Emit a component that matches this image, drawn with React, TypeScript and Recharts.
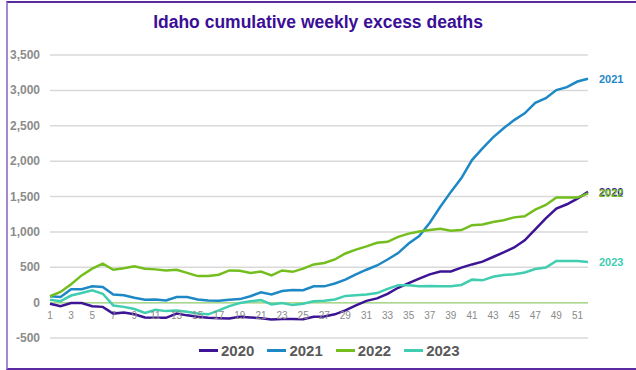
import React from 'react';
import { LineChart, Line, XAxis, YAxis, CartesianGrid, ReferenceLine } from 'recharts';

// weeks 1..52
const weeks = Array.from({ length: 52 }, (_, i) => i + 1);

const y2020 = [
  -15, -50, -5, -5, -50, -60, -155, -140, -165, -210, -215, -215, -155, -180, -200, -215, -220, -225, -200, -210,
  -220, -240, -230, -230, -235, -200, -195, -165, -110, -40, 25, 60, 125, 210, 275, 340, 400, 440, 440, 495,
  540, 580, 645, 710, 780, 880, 1035, 1190, 1330, 1390, 1470, 1565,
];
const y2021 = [
  90, 80, 190, 190, 230, 220, 115, 105, 70, 40, 45, 30, 80, 80, 45, 30, 25, 40, 50, 90,
  145, 115, 165, 180, 175, 230, 230, 270, 325, 400, 465, 525, 610, 700, 835, 940, 1130, 1355, 1565, 1760,
  2015, 2180, 2335, 2465, 2580, 2675, 2825, 2890, 3005, 3045, 3125, 3165,
];
const y2022 = [
  90, 150, 260, 385, 480, 550, 465, 485, 515, 480, 470, 455, 465, 420, 375, 375, 395, 455, 450, 420,
  440, 385, 455, 435, 480, 540, 560, 610, 695, 750, 795, 845, 860, 930, 975, 1005, 1025, 1045, 1015, 1025,
  1095, 1105, 1140, 1165, 1205, 1220, 1315, 1380, 1485, 1485, 1485, 1545,
];
const y2023 = [
  40, 20, 100, 135, 175, 125, -40, -60, -90, -145, -100, -120, -110, -130, -155, -165, -110, -50, -5, 20,
  35, -25, -5, -35, -15, 20, 25, 45, 95, 105, 115, 135, 195, 245, 245, 230, 235, 230, 230, 250,
  325, 315, 365, 390, 400, 425, 475, 495, 590, 590, 590, 575,
];

const yTicks = [-500, 0, 500, 1000, 1500, 2000, 2500, 3000, 3500];

const series = [
  { key: 'y2020', name: '2020', color: '#3d1495' },
  { key: 'y2021', name: '2021', color: '#1e88c6' },
  { key: 'y2022', name: '2022', color: '#73be1e' },
  { key: 'y2023', name: '2023', color: '#40cdb0' },
];

const data = weeks.map((w, i) => ({
  week: w,
  y2020: y2020[i],
  y2021: y2021[i],
  y2022: y2022[i],
  y2023: y2023[i],
}));

const fmt = (v: number) => v.toLocaleString('en-US');
const font = "'Liberation Sans', Arial, sans-serif";

// x labels sit just under the zero line, not at the bottom of the plot
const XTick = (props: any) => {
  const { x, y, payload } = props;
  return (
    <text x={x} y={y - 27} textAnchor="middle" fontSize={10} fill="#8a8a8a" fontFamily={font}>
      {payload.value}
    </text>
  );
};

const YTick = (props: any) => {
  const { x, y, payload } = props;
  return (
    <text x={x} y={y + 4} textAnchor="end" fontSize={12} fontWeight="bold" fill="#8c8c8c" fontFamily={font}>
      {fmt(payload.value)}
    </text>
  );
};

const endLabel = (name: string, color: string) => (props: any) => {
  const { x, y, index } = props;
  if (index !== weeks.length - 1) return null;
  return (
    <text x={x + 11} y={y + 4} fontSize={11} fontWeight="bold" fill={color} fontFamily={font}>
      {name}
    </text>
  );
};

export default function App() {
  return (
    <div style={{ position: 'fixed', left: 0, top: 0, width: 636, height: 370, background: '#fff', overflow: 'hidden' }}>
      {/* frame */}
      <div style={{ position: 'absolute', left: 6, top: 1, width: 640, height: 365, borderTop: '2px solid #5a2aa3', borderBottom: '2px solid #5a2aa3', borderLeft: '2px solid #a38ad3' }} />
      <div style={{ position: 'absolute', left: 0, top: 12, width: 636, textAlign: 'center', fontFamily: font, fontWeight: 'bold', fontSize: 17.5, color: '#3b0e96' }}>
        Idaho cumulative weekly excess deaths
      </div>
      <div style={{ position: 'absolute', left: 0, top: 0 }}>
        <LineChart width={636} height={370} data={data} margin={{ top: 55, right: 48, bottom: 12, left: 6 }}>
          <CartesianGrid vertical={false} stroke="#d9d9d9" strokeWidth={1.5} />
          <XAxis dataKey="week" interval={1} axisLine={false} tickLine={false} tick={<XTick />} height={20} />
          <YAxis domain={[-500, 3500]} ticks={yTicks} axisLine={false} tickLine={false} width={44} tick={<YTick />} tickMargin={4} />
          <ReferenceLine y={0} stroke="#a9d98a" strokeWidth={1.5} />
          {series.map((s) => (
            <Line
              key={s.key}
              dataKey={s.key}
              name={s.name}
              stroke={s.color}
              strokeWidth={2.5}
              dot={false}
              isAnimationActive={false}
              label={endLabel(s.name, s.color)}
            />
          ))}
        </LineChart>
      </div>
      {/* legend */}
      <div style={{ position: 'absolute', left: 199, top: 342, display: 'flex', gap: 13, fontFamily: font }}>
        {series.map((s) => (
          <div key={s.key} style={{ display: 'flex', alignItems: 'center', gap: 3 }}>
            <div style={{ width: 19, height: 3, background: s.color }} />
            <span style={{ fontSize: 15, fontWeight: 'bold', color: '#595959' }}>{s.name}</span>
          </div>
        ))}
      </div>
    </div>
  );
}
